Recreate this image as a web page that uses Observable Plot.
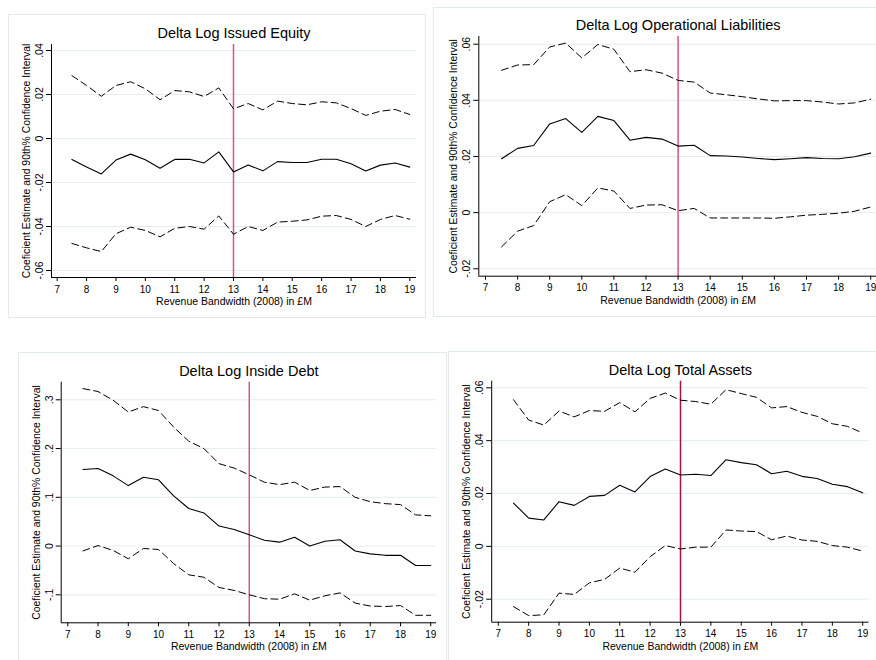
<!DOCTYPE html>
<html><head><meta charset="utf-8">
<script src="https://cdn.jsdelivr.net/npm/d3@7"></script>
<script src="https://cdn.jsdelivr.net/npm/@observablehq/plot@0.6"></script>
<style>
html,body{margin:0;padding:0;width:876px;height:660px;overflow:hidden;background:#fff;}
.panel{position:absolute;overflow:hidden;}
.border{position:absolute;border:1px solid #e2ebeb;box-sizing:border-box;pointer-events:none;}
</style></head><body>
<script>
// Shared x values (revenue bandwidth, £M) and tick labels
const bandwidth = [7.5,8,8.5,9,9.5,10,10.5,11,11.5,12,12.5,13,13.5,14,14.5,15,15.5,16,16.5,17,17.5,18,18.5,19];
const xTicks = [7,8,9,10,11,12,13,14,15,16,17,18,19];
const cutoff = [13];

// Panel titles
const titles = ["Delta Log Issued Equity","Delta Log Operational Liabilities","Delta Log Inside Debt","Delta Log Total Assets"];
const xTitle = "Revenue Bandwidth (2008) in £M";
const yTitle = "Coeficient Estimate and 90th% Confidence Interval";

// Delta Log Issued Equity
const equityUpper = [0.0286,0.0241,0.0192,0.0241,0.0258,0.0226,0.0176,0.0218,0.0212,0.0191,0.0230,0.0135,0.0159,0.0130,0.0170,0.0159,0.0153,0.0167,0.0162,0.0136,0.0105,0.0124,0.0132,0.0109];
const equityCoef  = [-0.0095,-0.0130,-0.0161,-0.0098,-0.0071,-0.0097,-0.0135,-0.0095,-0.0094,-0.0111,-0.0061,-0.0152,-0.0120,-0.0147,-0.0105,-0.0109,-0.0109,-0.0094,-0.0094,-0.0115,-0.0148,-0.0121,-0.0111,-0.0130];
const equityLower = [-0.0477,-0.0497,-0.0514,-0.0433,-0.0403,-0.0418,-0.0447,-0.0408,-0.0400,-0.0412,-0.0352,-0.0435,-0.0400,-0.0418,-0.0380,-0.0376,-0.0370,-0.0353,-0.0350,-0.0368,-0.0400,-0.0368,-0.0350,-0.0367];
const equityYTicks = [-0.06,-0.04,-0.02,0,0.02,0.04];

// Delta Log Operational Liabilities
const liabUpper = [0.0507,0.0526,0.0527,0.0590,0.0604,0.0551,0.0599,0.0582,0.0502,0.0509,0.0497,0.0471,0.0465,0.0426,0.0420,0.0413,0.0405,0.0398,0.0399,0.0399,0.0394,0.0387,0.0391,0.0404];
const liabCoef  = [0.0192,0.0229,0.0239,0.0316,0.0335,0.0286,0.0343,0.0328,0.0258,0.0268,0.0262,0.0237,0.0240,0.0203,0.0202,0.0198,0.0193,0.0189,0.0192,0.0196,0.0193,0.0192,0.0199,0.0212];
const liabLower = [-0.0122,-0.0066,-0.0046,0.0039,0.0064,0.0025,0.0088,0.0077,0.0015,0.0027,0.0028,0.0007,0.0015,-0.0019,-0.0019,-0.0019,-0.0019,-0.0020,-0.0015,-0.0009,-0.0006,-0.0002,0.0005,0.0020];
const liabYTicks = [-0.02,0,0.02,0.04,0.06];

// Delta Log Inside Debt
const debtUpper = [0.323,0.317,0.299,0.275,0.286,0.278,0.244,0.215,0.200,0.169,0.160,0.146,0.131,0.126,0.131,0.114,0.121,0.122,0.100,0.091,0.087,0.085,0.064,0.062];
const debtCoef  = [0.157,0.159,0.144,0.124,0.141,0.136,0.103,0.077,0.068,0.041,0.034,0.023,0.012,0.008,0.018,0.000,0.010,0.013,-0.010,-0.016,-0.019,-0.019,-0.040,-0.040];
const debtLower = [-0.010,0.001,-0.009,-0.026,-0.005,-0.007,-0.036,-0.059,-0.064,-0.085,-0.091,-0.100,-0.108,-0.109,-0.098,-0.111,-0.102,-0.096,-0.117,-0.123,-0.124,-0.122,-0.142,-0.142];
const debtYTicks = [-0.1,0,0.1,0.2,0.3];

// Delta Log Total Assets
const assetsUpper = [0.0555,0.0478,0.0459,0.0512,0.0490,0.0514,0.0511,0.0544,0.0509,0.0560,0.0580,0.0553,0.0548,0.0538,0.0593,0.0578,0.0564,0.0524,0.0529,0.0507,0.0492,0.0464,0.0454,0.0429];
const assetsCoef  = [0.0164,0.0107,0.0100,0.0169,0.0155,0.0189,0.0193,0.0231,0.0206,0.0264,0.0293,0.0270,0.0273,0.0268,0.0328,0.0317,0.0309,0.0275,0.0284,0.0265,0.0257,0.0235,0.0226,0.0203];
const assetsLower = [-0.0228,-0.0262,-0.0259,-0.0177,-0.0182,-0.0138,-0.0125,-0.0082,-0.0098,-0.0039,0.0003,-0.0010,-0.0003,-0.0003,0.0062,0.0058,0.0056,0.0025,0.0039,0.0024,0.0019,0.0003,-0.0003,-0.0018];
const assetsYTicks = [-0.02,0,0.02,0.04,0.06];

function stataFmt(v) {
  if (Math.abs(v) < 1e-12) return "0";
  return String(+v.toFixed(4)).replace(/^(-?)0\./, "$1.");
}

function rows(upper, coef, lower) {
  return bandwidth.map((b, i) => ({b, hi: upper[i], coef: coef[i], lo: lower[i]}));
}

const FONT = "'Liberation Sans', Arial, Helvetica, sans-serif";

function panel(o) {
  const data = rows(o.upper, o.coef, o.lower);
  const wrap = document.createElement("div");
  wrap.className = "panel";
  Object.assign(wrap.style, {left: o.left + "px", top: o.top + "px", width: o.width + "px", height: o.height + "px"});
  const chart = Plot.plot({
    width: o.width, height: o.height,
    marginLeft: o.ml, marginRight: o.mr, marginTop: o.mt, marginBottom: o.mb,
    style: {fontFamily: FONT, fontSize: "10px", color: "#000", background: "transparent"},
    x: {type: "linear", domain: o.xDomain},
    y: {type: "linear", domain: o.yDomain},
    marks: [
      Plot.gridY(o.yTicks, {stroke: "#e4eded", strokeOpacity: 1, strokeWidth: 1}),
      Plot.ruleX(cutoff, {stroke: o.red, strokeWidth: 1.5}),
      Plot.line(data, {x: "b", y: "hi", stroke: "#000", strokeWidth: 1, strokeDasharray: "7,4"}),
      Plot.line(data, {x: "b", y: "coef", stroke: "#000", strokeWidth: 1.1}),
      Plot.line(data, {x: "b", y: "lo", stroke: "#000", strokeWidth: 1, strokeDasharray: "7,4"}),
      Plot.ruleY([o.yDomain[0]], {stroke: "#000", strokeWidth: 1}),
      Plot.ruleX([o.xDomain[0]], {stroke: "#000", strokeWidth: 1}),
      Plot.axisX({ticks: xTicks, tickSize: 4, tickPadding: 4, tickFormat: d => String(d), label: null, fontSize: 10, stroke: "#000"}),
      Plot.axisY({ticks: o.yTicks, tickSize: 5, tickPadding: 3.5, tickRotate: -90, tickFormat: stataFmt, label: null, fontSize: 10.5, stroke: "#000"}),
      Plot.text([o.title], {frameAnchor: "top", dy: -11, lineAnchor: "middle", fontSize: 14.5, fill: "#000"}),
      Plot.text([xTitle], {frameAnchor: "bottom", dy: 24, lineAnchor: "middle", fontSize: 10.5, fill: "#000"}),
      Plot.text([yTitle], {frameAnchor: "left", dx: -25, rotate: -90, textAnchor: "middle", lineAnchor: "middle", fontSize: 10.4, fill: "#000"})
    ]
  });
  wrap.appendChild(chart);
  document.body.appendChild(wrap);
  const border = document.createElement("div");
  border.className = "border";
  Object.assign(border.style, {left: o.left + "px", top: o.top + "px", width: o.width + "px", height: o.height + "px"});
  document.body.appendChild(border);
}

const pink = "#d6577b";
const crimson = "#a8133d";

panel({title: titles[0], upper: equityUpper, coef: equityCoef, lower: equityLower, yTicks: equityYTicks,
  left: 8, top: 14, width: 418, height: 304, ml: 43, mr: 10, mt: 30, mb: 41,
  xDomain: [6.806, 19.228], yDomain: [-0.06318, 0.04273], red: pink});

panel({title: titles[1], upper: liabUpper, coef: liabCoef, lower: liabLower, yTicks: liabYTicks,
  left: 433, top: 7, width: 460, height: 310, ml: 45.3, mr: 16, mt: 29, mb: 41.3,
  xDomain: [6.791, 19.212], yDomain: [-0.02264, 0.06274], red: pink});

panel({title: titles[2], upper: debtUpper, coef: debtCoef, lower: debtLower, yTicks: debtYTicks,
  left: 18, top: 352, width: 429, height: 311, ml: 42.7, mr: 11, mt: 29.7, mb: 40.7,
  xDomain: [6.782, 19.19], yDomain: [-0.1574, 0.3361], red: pink});

panel({title: titles[3], upper: assetsUpper, coef: assetsCoef, lower: assetsLower, yTicks: assetsYTicks,
  left: 447.5, top: 351, width: 440, height: 312, ml: 43.2, mr: 19.5, mt: 29.7, mb: 41.3,
  xDomain: [6.783, 19.207], yDomain: [-0.0287, 0.0625], red: crimson});
</script>
</body></html>
